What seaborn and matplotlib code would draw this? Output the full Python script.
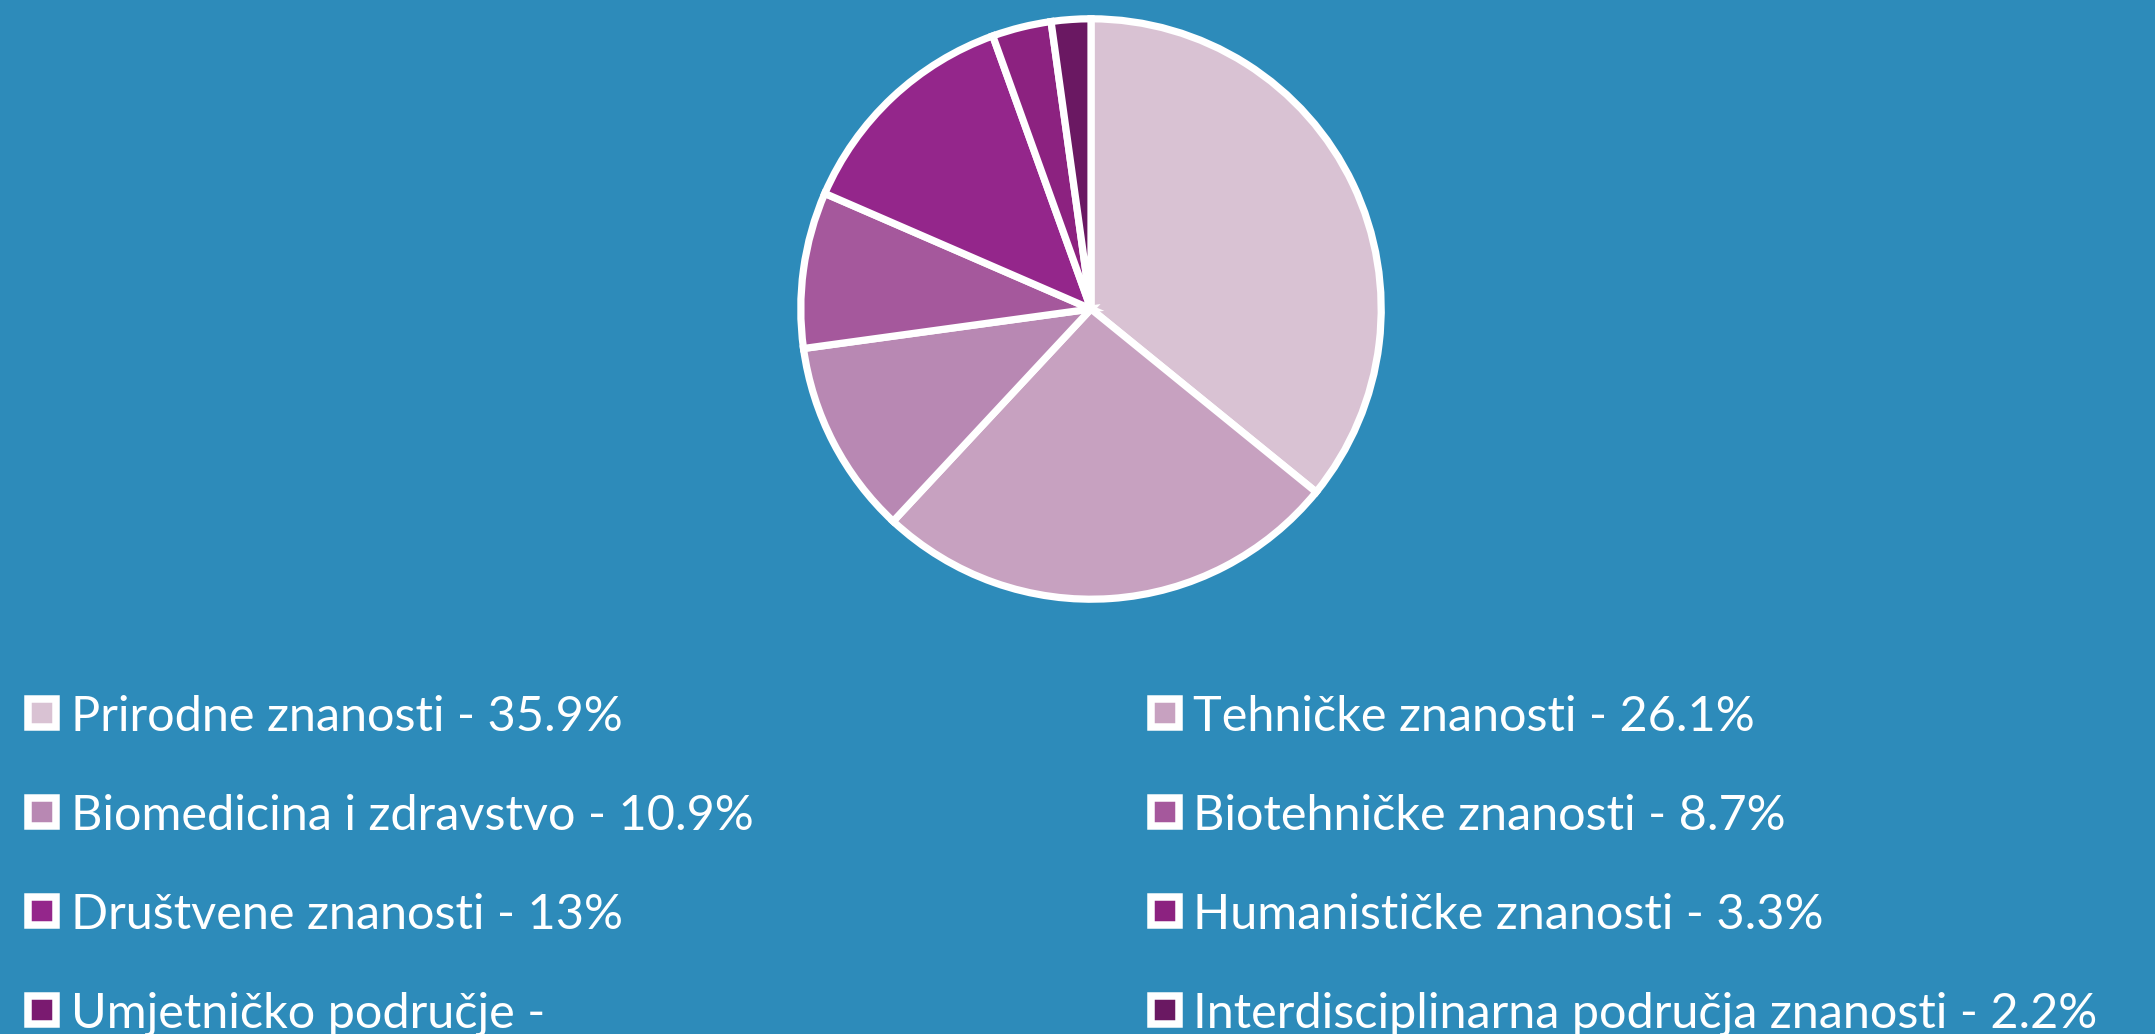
import numpy as np
import matplotlib
matplotlib.use("Agg")
import matplotlib.pyplot as plt
import seaborn as sns

# data
labels = ["Prirodne znanosti", "Tehničke znanosti", "Biomedicina i zdravstvo",
          "Biotehničke znanosti", "Društvene znanosti", "Humanističke znanosti",
          "Umjetničko područje", "Interdisciplinarna područja znanosti"]
values = [35.9, 26.1, 10.9, 8.7, 13.0, 3.3, 0.0, 2.2]
value_text = ["35.9%", "26.1%", "10.9%", "8.7%", "13%", "3.3%", "", "2.2%"]
colors = ["#d9c2d3", "#c7a1c0", "#b888b3", "#a5589c",
          "#94268b", "#8c2280", "#7a1a70", "#6a1862"]

bg = "#2d8bba"

sns.set_theme(style="white")
plt.rcParams["font.family"] = ["Lato", "DejaVu Sans"]

W, H = 2155, 1034
fig = plt.figure(figsize=(W / 100, H / 100), dpi=100, facecolor=bg)

# pie
cx, cy, r = 1091, 309, 296
ax = fig.add_axes([(cx - r) / W, (H - cy - r) / H, 2 * r / W, 2 * r / H])
ax.set_facecolor(bg)
vals = np.array(values)
mask = vals > 0
ax.pie(vals[mask], colors=np.array(colors)[mask], startangle=90, counterclock=False,
       wedgeprops=dict(edgecolor="white", linewidth=5.2), radius=1)
ax.set_xlim(-1.02, 1.02)
ax.set_ylim(-1.02, 1.02)
ax.axis("off")

# legend drawn in pixel space
lg = fig.add_axes([0, 0, 1, 1])
lg.set_xlim(0, W)
lg.set_ylim(H, 0)
lg.axis("off")
row_y = [713, 812, 911, 1010]
col_marker = [42, 1165]
col_text = [71, 1193]
for i, (lab, txt, c) in enumerate(zip(labels, value_text, colors)):
    row, col = i // 2, i % 2
    y = row_y[row]
    lg.plot(col_marker[col], y, marker="s", ms=20.5, mfc=c, mec="white", mew=5.4,
            linestyle="none")
    lg.text(col_text[col], y, f"{lab} - {txt}", color="white", fontsize=35,
            va="center_baseline", ha="left")

fig.savefig("out.png", dpi=100, facecolor=bg)
